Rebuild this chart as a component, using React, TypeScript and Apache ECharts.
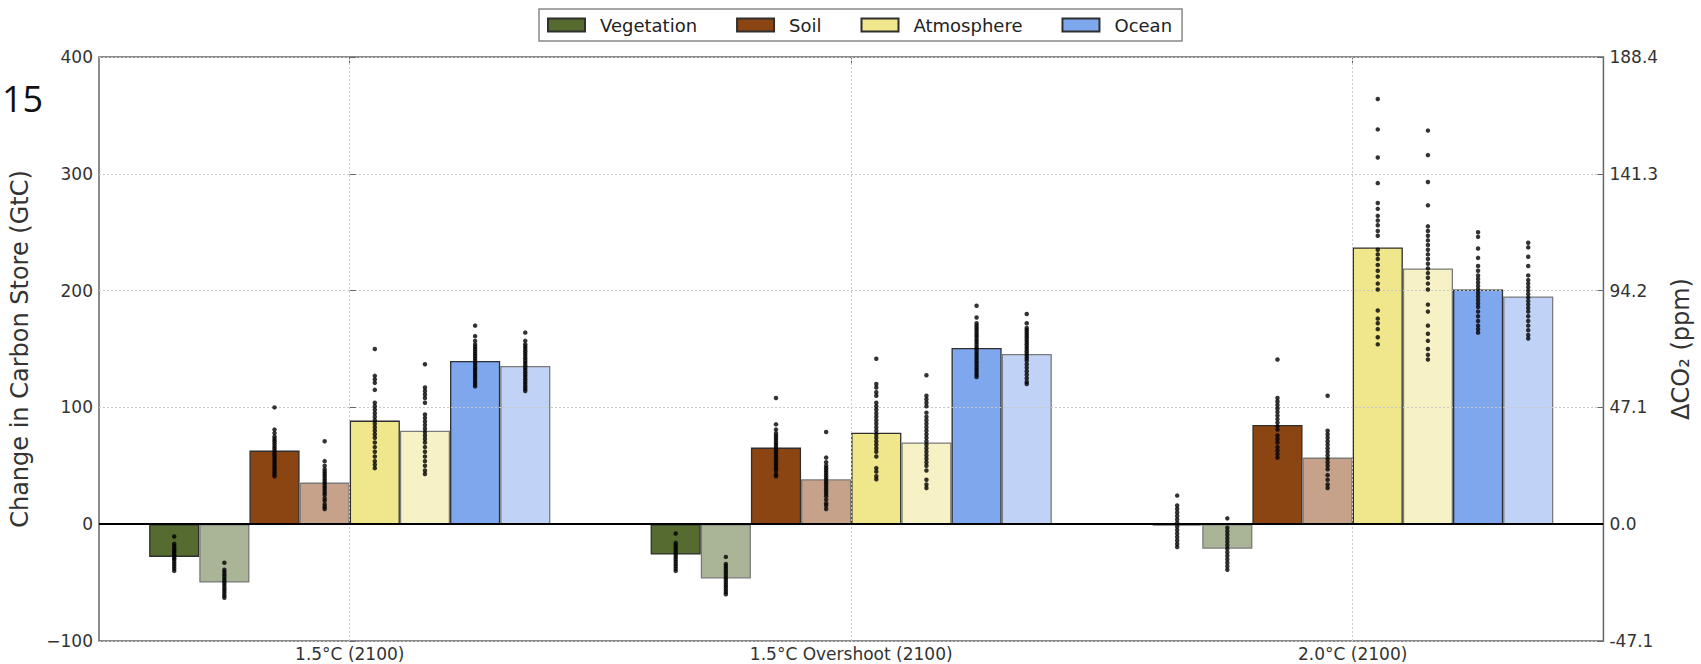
import React, { useEffect, useRef } from 'react';
import * as echarts from 'echarts';

const categories = ['1.5°C (2100)', '1.5°C Overshoot (2100)', '2.0°C (2100)'];
const componentNames = ['Vegetation', 'Soil', 'Atmosphere', 'Ocean'];

// bar heights (GtC): dark = first model set, light = second model set
const vegetation = [-28, -26, -1];
const vegetationLight = [-50, -46.5, -21];
const soil = [63, 65.6, 85];
const soilLight = [35.6, 38.5, 57];
const atmosphere = [88.7, 78.4, 237];
const atmosphereLight = [80, 70, 219];
const ocean = [139.7, 150.8, 201];
const oceanLight = [135.4, 145.7, 195];

// ensemble members per bar (order: veg, veg light, soil, soil light, atm, atm light, ocean, ocean light)
const dots1p5 = [
  [-10.5, -17, -19, -21, -23, -24, -26, -27, -29, -30, -32, -34, -36, -38, -40],
  [-33, -39, -41, -43, -45, -47, -49, -51, -53, -55, -57, -59, -61, -63],
  [100, 81, 78, 75, 73, 71, 69, 67, 65, 63, 61, 59, 57, 55, 53, 51, 49, 47, 45, 43, 41],
  [71, 54, 50, 47, 45, 43, 41, 39, 37, 35, 33, 31, 29, 27, 25, 22, 20, 17, 15, 13],
  [150, 127, 124, 121, 115, 104, 101, 98, 95, 92, 89, 86, 83, 80, 77, 74, 70, 66, 62, 58, 54, 51, 48],
  [137, 117, 114, 111, 108, 104, 94, 91, 88, 85, 82, 79, 76, 73, 70, 66, 62, 58, 54, 50, 46, 43],
  [170, 161, 157, 154, 152, 150, 148, 146, 144, 142, 140, 138, 136, 134, 132, 130, 128, 126, 124, 122, 120, 118],
  [164, 157, 154, 152, 150, 148, 146, 144, 142, 140, 138, 136, 134, 132, 130, 128, 126, 124, 122, 120, 118, 116, 114],
];
const dotsOvershoot = [
  [-8, -16, -18, -20, -22, -24, -26, -28, -30, -32, -34, -36, -38, -40],
  [-28, -34, -36, -38, -40, -42, -44, -46, -48, -50, -52, -54, -56, -58, -60],
  [108, 85.5, 81, 78, 76, 74, 72, 70, 68, 66, 64, 62, 60, 58, 56, 54, 52, 50, 48, 46, 43, 41],
  [79, 57, 53, 50, 48, 46, 44, 42, 40, 38, 36, 34, 32, 30, 28, 26, 24, 21, 18, 16, 13],
  [141.7, 120, 117, 113, 110, 104, 101, 98, 95, 92, 89, 86, 83, 80, 77, 74, 71, 68, 65, 62, 58, 48, 45, 41, 38.5],
  [127.5, 110, 107, 104, 101, 95.5, 92, 89, 86, 83, 80, 77, 74, 71, 68, 65, 62, 59, 56, 53, 50, 46, 38, 34, 31],
  [187, 177, 172, 170, 168, 166, 164, 162, 160, 158, 156, 154, 152, 150, 148, 146, 144, 142, 140, 138, 136, 134, 132, 130, 128, 126],
  [180, 172, 168, 166, 164, 162, 160, 158, 156, 154, 152, 150, 148, 146, 144, 142, 140, 137, 134, 131, 128, 125, 122, 120],
];
const dots2p0 = [
  [24.5, 16, 13, 10, 7, 4, 1, -2, -5, -8, -11, -14, -17, -19.6],
  [5, -3, -6, -9, -12, -15, -18, -21, -24, -27, -30, -33, -36, -39],
  [141, 108, 105, 102, 99, 96, 93, 90, 87, 84, 81, 76, 73, 70, 66, 63, 60, 57],
  [110, 80, 77, 74, 71, 68, 65, 62, 59, 56, 53, 50, 47, 42, 38, 34, 31],
  [364, 338, 314, 292, 275, 270, 264, 260, 256, 251, 247, 235, 231, 227, 222, 217, 212, 206, 201, 183, 176, 172, 167, 160, 154],
  [337, 316, 293, 273, 255, 251, 247, 243, 239, 235, 231, 227, 223, 219, 215, 211, 206, 201, 188, 182, 170, 163, 157, 150, 145, 141],
  [250, 246, 236, 228, 221, 217, 213, 210, 207, 204, 201, 198, 195, 192, 189, 186, 182, 178, 174, 170, 167, 164],
  [241, 237, 229, 221, 213, 209, 206, 203, 200, 197, 194, 191, 188, 185, 182, 178, 174, 170, 166, 162, 159],
];

const leftMin = -100;
const leftMax = 400;
const leftStep = 100;
const rightMin = -47.1;
const rightMax = 188.4;
const rightStep = 47.1;

const FONT = 'DejaVu Sans';

export default function App() {
  const ref = useRef<HTMLDivElement>(null);
  useEffect(() => {
    if (!ref.current) return;
    const chart = echarts.init(ref.current, undefined, { renderer: 'svg' });

    const barSets = [
      { name: 'Vegetation', data: vegetation, color: '#556B2F', border: '#2f2f2f' },
      { name: 'Vegetation (2)', data: vegetationLight, color: '#AAB597', border: '#7a7a7a' },
      { name: 'Soil', data: soil, color: '#8B4513', border: '#2f2f2f' },
      { name: 'Soil (2)', data: soilLight, color: '#C5A289', border: '#7a7a7a' },
      { name: 'Atmosphere', data: atmosphere, color: '#F0E68C', border: '#2f2f2f' },
      { name: 'Atmosphere (2)', data: atmosphereLight, color: '#F7F2C5', border: '#7a7a7a' },
      { name: 'Ocean', data: ocean, color: '#7FA7EE', border: '#2f2f2f' },
      { name: 'Ocean (2)', data: oceanLight, color: '#C0D3F6', border: '#7a7a7a' },
    ];

    const groups = [dots1p5, dotsOvershoot, dots2p0];
    const nBars = barSets.length;
    const barFrac = 0.1;
    const dotData: number[][] = [];
    groups.forEach((g, gi) => {
      g.forEach((vals, k) => {
        const x = gi + (k - (nBars - 1) / 2) * barFrac;
        vals.forEach((v) => dotData.push([x, v]));
      });
    });

    const axisLabelStyle = { fontFamily: FONT, fontSize: 17, color: '#333' };
    const gridLine = { color: '#c8c8c8', type: [2, 2], width: 1 };

    const option: any = {
      animation: false,
      backgroundColor: '#fff',
      grid: {
        left: 99,
        right: 83,
        top: 57,
        bottom: 23,
        show: true,
        borderColor: '#666',
        borderWidth: 1.5,
        backgroundColor: 'transparent',
      },
      legend: {
        data: componentNames,
        left: 539,
        top: 9,
        orient: 'horizontal',
        itemWidth: 37,
        itemHeight: 13,
        itemGap: 39,
        icon: 'rect',
        padding: [7, 10, 7, 8],
        borderColor: '#888',
        borderWidth: 1.5,
        backgroundColor: '#fff',
        textStyle: { fontFamily: FONT, fontSize: 18, color: '#222', padding: [0, 0, 0, 10] },
      },
      graphic: [
        {
          type: 'text',
          style: {
            text: '15',
            x: 2,
            y: 98,
            align: 'left',
            verticalAlign: 'middle',
            fontFamily: 'Open Sans',
            fontSize: 36,
            fill: '#111',
          },
        },
      ],
      xAxis: [
        {
          type: 'category',
          data: categories,
          position: 'bottom',
          axisLine: { show: false },
          axisTick: { show: true, inside: true, alignWithLabel: true, length: 6, lineStyle: { color: '#666', width: 1 } },
          axisLabel: { ...axisLabelStyle, margin: 4 },
          splitLine: { show: false },
        },
        {
          type: 'value',
          min: -0.5,
          max: 2.5,
          show: false,
        },
        {
          type: 'category',
          data: categories,
          position: 'top',
          axisLine: { show: false },
          axisTick: { show: true, inside: true, alignWithLabel: true, length: 6, lineStyle: { color: '#666', width: 1 } },
          axisLabel: { show: false },
          splitLine: { show: false },
        },
      ],
      yAxis: [
        {
          type: 'value',
          min: leftMin,
          max: leftMax,
          interval: leftStep,
          z: 3,
          name: 'Change in Carbon Store (GtC)',
          nameLocation: 'middle',
          nameRotate: 90,
          nameGap: 67,
          nameTextStyle: { fontFamily: FONT, fontSize: 24, color: '#333' },
          axisLine: { show: false },
          axisTick: { show: true, inside: true, length: 6, lineStyle: { color: '#666' } },
          axisLabel: { ...axisLabelStyle, margin: 6, formatter: (v: number) => (v < 0 ? '\u2212' + Math.abs(v) : String(v)) },
          splitLine: { show: true, lineStyle: gridLine },
        },
        {
          type: 'value',
          position: 'right',
          min: rightMin,
          max: rightMax,
          interval: rightStep,
          z: 3,
          name: 'ΔCO₂ (ppm)',
          nameLocation: 'middle',
          nameRotate: 90,
          nameGap: 64,
          nameTextStyle: { fontFamily: FONT, fontSize: 24, color: '#333' },
          axisLine: { show: false },
          axisTick: { show: true, inside: true, length: 6, lineStyle: { color: '#666' } },
          axisLabel: {
            ...axisLabelStyle,
            margin: 6,
            formatter: (v: number) => (Math.abs(v) < 1e-9 ? '0.0' : v.toFixed(1)),
          },
          splitLine: { show: false },
        },
      ],
      series: [
        ...barSets.map((b) => ({
          type: 'bar',
          name: b.name,
          data: b.data,
          xAxisIndex: 0,
          yAxisIndex: 0,
          barWidth: '10%',
          barGap: '0%',
          z: 2,
          itemStyle: { color: b.color, borderColor: b.border, borderWidth: 1.3 },
          emphasis: { disabled: true },
        })),
        {
          type: 'scatter',
          name: 'members',
          data: dotData,
          xAxisIndex: 1,
          yAxisIndex: 0,
          symbol: 'circle',
          symbolSize: 4.5,
          z: 5,
          itemStyle: { color: '#000' },
          emphasis: { disabled: true },
          markLine: {
            silent: true,
            symbol: 'none',
            label: { show: false },
            animation: false,
            data: [
              { xAxis: 0, lineStyle: gridLine },
              { xAxis: 1, lineStyle: gridLine },
              { xAxis: 2, lineStyle: gridLine },
              { yAxis: 0, lineStyle: { color: '#000', type: 'solid', width: 2 } },
            ],
          },
        },
      ],
    };

    chart.setOption(option);
    return () => chart.dispose();
  }, []);

  return <div ref={ref} style={{ position: 'absolute', left: 0, top: 0, width: 1701, height: 664 }} />;
}
